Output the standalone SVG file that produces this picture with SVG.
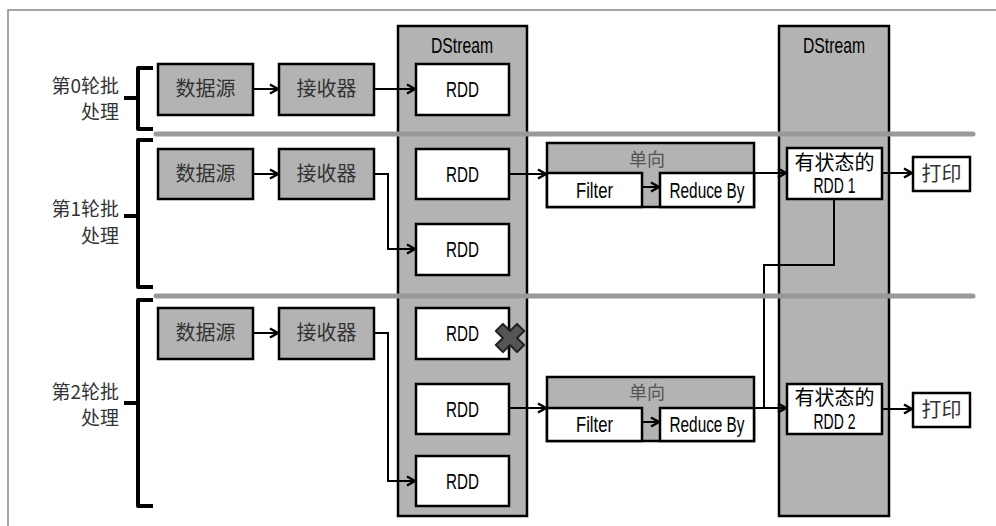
<svg xmlns="http://www.w3.org/2000/svg" width="996" height="526" viewBox="0 0 996 526">
<style>
.frame{fill:none;stroke:#888;stroke-width:1.5}
.col{fill:#b3b3b3;stroke:#000;stroke-width:2.5}
.gbox{fill:#b3b3b3;stroke:#000;stroke-width:2.5}
.wbox{fill:#fff;stroke:#000;stroke-width:2.5}
.sep{stroke:#999;stroke-width:5;stroke-linecap:round}
.brk{fill:none;stroke:#000;stroke-width:4;stroke-linejoin:round}
.ln{fill:none;stroke:#000;stroke-width:2}
.arr{fill:none;stroke:#000;stroke-width:2;marker-end:url(#ah)}
.cjk{font-family:"Noto Sans CJK SC",sans-serif;font-size:20px;fill:#333;text-anchor:middle}
.lab{font-family:"Noto Sans CJK SC",sans-serif;font-size:19px;fill:#333;text-anchor:end}
.en{font-family:"Liberation Sans",Arial,sans-serif;font-size:21.5px;fill:#000;text-anchor:middle}
.dir{font-family:"Noto Sans CJK SC",sans-serif;font-size:18px;fill:#555;text-anchor:middle}
</style>
<defs>
<marker id="ah" viewBox="0 0 12 12" refX="10" refY="6" markerWidth="12" markerHeight="12" markerUnits="userSpaceOnUse" orient="auto">
<path d="M2,1.5 L10,6 L2,10.5" fill="none" stroke="#000" stroke-width="2.5"/>
</marker>
</defs>
<rect width="996" height="526" fill="#fff"/>
<path class="frame" d="M8,526 V10 H996"/>

<g id="dstream1">
<rect class="col" x="398" y="26" width="129" height="490"/>
<text class="en" x="462" y="53" textLength="62" lengthAdjust="spacingAndGlyphs">DStream</text>
</g>
<g id="dstream2">
<rect class="col" x="779" y="26" width="110" height="490"/>
<text class="en" x="834" y="53" textLength="62" lengthAdjust="spacingAndGlyphs">DStream</text>
</g>

<g id="brackets">
<path class="brk" d="M153,68 H138 V129 H153 M138,98 H124"/>
<path class="brk" d="M153,140 H138 V287 H153 M138,216 H124"/>
<path class="brk" d="M153,300 H138 V506 H153 M138,403 H124"/>
</g>
<g id="labels">
<text class="lab" x="119" y="93">第0轮批</text>
<text class="lab" x="119" y="119">处理</text>
<text class="lab" x="119" y="216">第1轮批</text>
<text class="lab" x="119" y="243">处理</text>
<text class="lab" x="119" y="399">第2轮批</text>
<text class="lab" x="119" y="425">处理</text>
</g>

<g id="src0"><rect class="gbox" x="158" y="64" width="95" height="51"/><text class="cjk" x="205.5" y="96">数据源</text></g>
<g id="rcv0"><rect class="gbox" x="279" y="64" width="95" height="51"/><text class="cjk" x="326.5" y="96">接收器</text></g>
<g id="src1"><rect class="gbox" x="158" y="149" width="95" height="50"/><text class="cjk" x="205.5" y="181">数据源</text></g>
<g id="rcv1"><rect class="gbox" x="279" y="149" width="95" height="50"/><text class="cjk" x="326.5" y="181">接收器</text></g>
<g id="src2"><rect class="gbox" x="158" y="308" width="95" height="51"/><text class="cjk" x="205.5" y="340">数据源</text></g>
<g id="rcv2"><rect class="gbox" x="279" y="308" width="95" height="51"/><text class="cjk" x="326.5" y="340">接收器</text></g>

<g id="rdd0"><rect class="wbox" x="416" y="64" width="93" height="51"/><text class="en" x="462.5" y="97" textLength="33" lengthAdjust="spacingAndGlyphs">RDD</text></g>
<g id="rdd1a"><rect class="wbox" x="416" y="149" width="93" height="50"/><text class="en" x="462.5" y="182" textLength="33" lengthAdjust="spacingAndGlyphs">RDD</text></g>
<g id="rdd1b"><rect class="wbox" x="416" y="224" width="93" height="51"/><text class="en" x="462.5" y="257" textLength="33" lengthAdjust="spacingAndGlyphs">RDD</text></g>
<g id="rdd2a"><rect class="wbox" x="416" y="308" width="93" height="51"/><text class="en" x="462.5" y="341" textLength="33" lengthAdjust="spacingAndGlyphs">RDD</text>
<polygon transform="translate(510,338) rotate(45)" points="-5,-15 5,-15 5,-5 15,-5 15,5 5,5 5,15 -5,15 -5,5 -15,5 -15,-5 -5,-5" fill="#555" stroke="#222" stroke-width="2" stroke-linejoin="round"/></g>
<g id="rdd2b"><rect class="wbox" x="416" y="384" width="93" height="50"/><text class="en" x="462.5" y="417" textLength="33" lengthAdjust="spacingAndGlyphs">RDD</text></g>
<g id="rdd2c"><rect class="wbox" x="416" y="456" width="93" height="50"/><text class="en" x="462.5" y="489" textLength="33" lengthAdjust="spacingAndGlyphs">RDD</text></g>

<g id="op1">
<rect class="gbox" x="547" y="143" width="207" height="64"/>
<text class="dir" x="647" y="166">单向</text>
<rect class="wbox" x="547" y="173" width="95" height="34"/>
<text class="en" x="594.5" y="198" textLength="37" lengthAdjust="spacingAndGlyphs">Filter</text>
<rect class="wbox" x="660" y="173" width="94" height="34"/>
<text class="en" x="707" y="198" textLength="75" lengthAdjust="spacingAndGlyphs">Reduce By</text>
</g>
<g id="op2">
<rect class="gbox" x="547" y="377" width="207" height="64"/>
<text class="dir" x="647" y="399">单向</text>
<rect class="wbox" x="547" y="408" width="95" height="33"/>
<text class="en" x="594.5" y="432" textLength="37" lengthAdjust="spacingAndGlyphs">Filter</text>
<rect class="wbox" x="660" y="408" width="94" height="33"/>
<text class="en" x="707" y="432" textLength="75" lengthAdjust="spacingAndGlyphs">Reduce By</text>
</g>

<g id="state1"><rect class="wbox" x="787" y="148" width="95" height="51"/>
<text class="cjk" x="834.5" y="170" style="fill:#000">有状态的</text>
<text class="en" x="834.5" y="193" textLength="42" lengthAdjust="spacingAndGlyphs">RDD 1</text></g>
<g id="state2"><rect class="wbox" x="787" y="384" width="95" height="50"/>
<text class="cjk" x="834.5" y="405" style="fill:#000">有状态的</text>
<text class="en" x="834.5" y="429" textLength="42" lengthAdjust="spacingAndGlyphs">RDD 2</text></g>
<g id="print1"><rect class="wbox" x="913" y="157" width="57" height="34"/><text class="cjk" x="941.5" y="181">打印</text></g>
<g id="print2"><rect class="wbox" x="913" y="393" width="57" height="34"/><text class="cjk" x="941.5" y="417">打印</text></g>

<g id="connectors">
<path class="arr" d="M253,89 H278"/>
<path class="arr" d="M253,174 H278"/>
<path class="arr" d="M253,333 H278"/>
<path class="arr" d="M374,89 H415"/>
<path class="arr" d="M374,174 H388 V249 H415"/>
<path class="arr" d="M374,333 H388 V481 H415"/>
<path class="arr" d="M509,174 H546"/>
<path class="arr" d="M642,187 H659"/>
<path class="arr" d="M754,173 H786"/>
<path class="arr" d="M882,173 H912"/>
<path class="arr" d="M509,408 H546"/>
<path class="arr" d="M642,422 H659"/>
<path class="arr" d="M754,408 H786"/>
<path class="arr" d="M882,409 H912"/>
<path class="ln" d="M834,199 V265 H764 V408"/>
</g>

<g id="separators">
<line class="sep" x1="156" y1="134" x2="973" y2="134"/>
<line class="sep" x1="156" y1="296" x2="973" y2="296"/>
</g>
</svg>
